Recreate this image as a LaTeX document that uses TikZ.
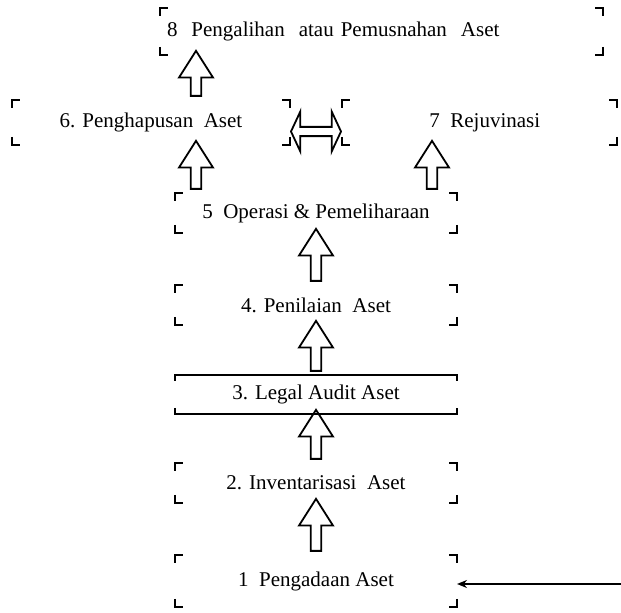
\documentclass[tikz,border=0pt]{standalone}
\usepackage{fontspec}
\setmainfont{Liberation Serif}
\usetikzlibrary{shapes.arrows, arrows.meta, calc, positioning}

\newcommand{\boxcorners}[3]{%
  \draw ([yshift=-#3]#1.north west) |- ([xshift=#2]#1.north west);%
  \draw ([yshift=-#3]#1.north east) |- ([xshift=-#2]#1.north east);%
  \draw ([yshift=#3]#1.south west) |- ([xshift=#2]#1.south west);%
  \draw ([yshift=#3]#1.south east) |- ([xshift=-#2]#1.south east);%
}

\begin{document}
\begin{tikzpicture}[x=0.5pt, y=-0.5pt, line width=0.6pt]%
        \tikzstyle{stage}=[rectangle, inner sep=0pt, outer sep=0pt, minimum width=141pt, minimum height=20pt, font=\fontsize{10.5}{12}\selectfont];%
        \tikzstyle{lift}=[single arrow, draw, line width=0.9pt, shape border rotate=90, inner sep=0pt, outer sep=0pt, minimum width=17pt, single arrow head extend=1pt, single arrow tip angle=65];%
        \tikzstyle{link}=[double arrow, draw, line width=0.9pt, inner sep=0pt, outer sep=0pt, minimum width=20pt, double arrow head extend=1.5pt, double arrow tip angle=130];%
        \useasboundingbox (0,0) rectangle (621,613);

        \node[stage, minimum width=221.5pt, minimum height=23.5pt, inner xsep=3.5pt, text width=214.5pt, align=left] (b8) at (381.5, 31.5) {8 \ Pengalihan \ atau Pemusnahan \ Aset};
        \node[stage, minimum width=139pt, minimum height=22.5pt] (b6) at (151, 122.5) {6. Penghapusan \ Aset};
        \node[stage, minimum width=137.5pt, minimum height=22.5pt] (b7) at (479.5, 122.5) {\ \ 7 \ Rejuvinasi};
        \node[stage] (b5) at (316, 213) {5 \ Operasi \& Pemeliharaan};
        \node[stage] (b4) at (316, 305) {4. Penilaian \ Aset};
        \node[stage, minimum height=19.5pt] (b3) at (316, 394.5) {3. Legal Audit Aset};
        \node[stage] (b2) at (316, 483) {2. Inventarisasi \ Aset};
        \node[stage, minimum height=26pt] (b1) at (316, 581) {1 \ Pengadaan Aset};

        \boxcorners{b8}{4pt}{4pt}
        \boxcorners{b6}{4pt}{4pt}
        \boxcorners{b7}{4pt}{4pt}
        \boxcorners{b5}{4pt}{4pt}
        \boxcorners{b4}{4pt}{4pt}
        \boxcorners{b2}{4pt}{4pt}
        \boxcorners{b1}{4pt}{4pt}
        \draw ([yshift=-3pt]b3.north west) -- (b3.north west) -- (b3.north east) -- ([yshift=-3pt]b3.north east);
        \draw ([yshift=3pt]b3.south west) -- (b3.south west) -- (b3.south east) -- ([yshift=3pt]b3.south east);

        \node[lift, minimum height=26pt] (a12) at ($(b1.north)!0.5!(b2.south)$) {};
        \node[lift, minimum height=24.5pt] (a23) at ($(b2.north)!0.5!(b3.south)$) {};
        \node[lift, minimum height=25pt] (a34) at ($(b3.north)!0.5!(b4.south)$) {};
        \node[lift, minimum height=26pt] (a45) at ($(b4.north)!0.5!(b5.south)$) {};

        \coordinate (p5) at ([xshift=10.5pt]b5.north west);
        \coordinate (p6) at (p5 |- b6.north);
        \coordinate (p7) at ([xshift=-12.5pt]b5.north east);
        \node[lift, minimum height=24pt] (a56) at ($(p5)!0.5!(p5 |- b6.south)$) {};
        \node[lift, minimum height=22.5pt] (a68) at ($(p6)!0.5!(p6 |- b8.south)$) {};
        \node[lift, minimum height=24pt] (a57) at ($(p7)!0.5!(p7 |- b7.south)$) {};

        \node[link, minimum height=25pt] (a67) at ($(b6.east)!0.5!(b7.west)+(0,9)$) {};

        \coordinate (src) at (621, 584);
        \draw[-{Stealth[length=5pt, width=4pt]}, line width=0.8pt] (src) -- (src -| b1.east);
    \end{tikzpicture}
\end{document}
